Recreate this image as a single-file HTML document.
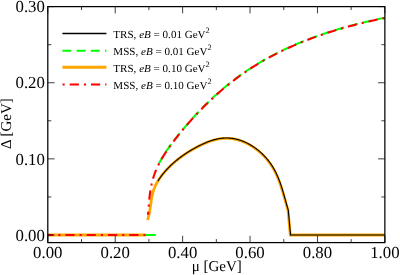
<!DOCTYPE html>
<html><head><meta charset="utf-8"><title>plot</title>
<style>
html,body{margin:0;padding:0;background:#fff;}
svg{display:block;font-family:"Liberation Serif",serif;}
text{text-rendering:geometricPrecision;}
#w{width:400px;height:275px;will-change:transform;overflow:hidden;}
</style></head><body>
<div id="w">
<svg width="400" height="275" viewBox="0 0 400 275">
<rect x="0" y="0" width="400" height="275" fill="#fff"/>
<g fill="none" stroke-linejoin="round" stroke-linecap="butt">
<!-- MSS eB=0.01 green dashed -->
<path d="M47.8,235.0 L140,235.0" stroke="#00ff00" stroke-width="2.0" stroke-dasharray="9.0 5.2"/>
<path d="M145,235.0 L155.8,235.0" stroke="#00ff00" stroke-width="2.0"/>
<path d="M158.79,164.19 L159.23,163.33 L159.73,162.37 L160.25,161.41 L160.77,160.46 L161.30,159.52 L161.85,158.57 L162.40,157.63 L162.96,156.70 L163.53,155.77 L164.11,154.84 L164.69,153.92 L165.29,153.00 L165.89,152.09 L166.49,151.17 L167.11,150.27 L167.73,149.36 L168.36,148.46 L168.99,147.56 L169.63,146.66 L170.28,145.77 L170.93,144.88 L171.59,143.99 L172.25,143.11 L172.91,142.23 L173.58,141.35 L174.25,140.47 L174.93,139.59 L175.61,138.72 L176.29,137.85 L176.97,136.98 L177.66,136.11 L178.35,135.24 L179.04,134.38 L179.74,133.52 L180.44,132.66 L181.14,131.80 L181.84,130.94 L182.55,130.09 L183.26,129.23 L183.97,128.38 L184.69,127.54 L185.40,126.69 L186.12,125.85 L186.85,125.00 L187.57,124.16 L188.30,123.33 L189.03,122.49 L189.76,121.66 L190.50,120.83 L191.24,120.00 L191.98,119.17 L192.72,118.35 L193.47,117.53 L194.22,116.71 L194.97,115.90 L195.73,115.08 L196.48,114.27 L197.24,113.46 L198.00,112.66 L198.77,111.85 L199.54,111.05 L200.31,110.25 L201.08,109.46 L201.86,108.66 L202.63,107.87 L203.42,107.09 L204.20,106.30 L204.98,105.52 L205.77,104.74 L206.57,103.96 L207.36,103.19 L208.16,102.42 L208.95,101.65 L209.76,100.88 L210.56,100.12 L211.37,99.36 L212.18,98.61 L212.99,97.85 L213.80,97.10 L214.62,96.36 L215.44,95.61 L216.26,94.87 L217.09,94.13 L217.92,93.40 L218.75,92.67 L219.58,91.94 L220.42,91.21 L221.25,90.49 L222.10,89.77 L222.94,89.06 L223.78,88.34 L224.63,87.64 L225.48,86.93 L226.34,86.23 L227.19,85.53 L228.05,84.83 L228.91,84.14 L229.78,83.45 L230.64,82.77 L231.51,82.09 L232.38,81.41 L233.26,80.74 L234.13,80.07 L235.01,79.40 L235.89,78.74 L236.78,78.08 L237.67,77.42 L238.55,76.77 L239.45,76.12 L240.34,75.48 L241.24,74.84 L242.14,74.20 L243.04,73.57 L243.94,72.94 L244.85,72.31 L245.76,71.69 L246.67,71.07 L247.59,70.46 L248.50,69.85 L249.42,69.25 L250.34,68.65 L251.27,68.05 L252.20,67.45 L253.12,66.86 L254.06,66.28 L254.99,65.70 L255.93,65.12 L256.86,64.54 L257.81,63.97 L258.75,63.41 L259.69,62.84 L260.64,62.28 L261.59,61.73 L262.54,61.18 L263.50,60.63 L264.45,60.08 L265.41,59.54 L266.37,59.01 L267.34,58.47 L268.30,57.94 L269.27,57.42 L270.24,56.90 L271.21,56.38 L272.18,55.86 L273.16,55.35 L274.13,54.84 L275.11,54.34 L276.09,53.84 L277.08,53.34 L278.06,52.84 L279.05,52.35 L280.03,51.87 L281.02,51.38 L282.02,50.90 L283.01,50.42 L284.01,49.95 L285.00,49.48 L286.00,49.01 L287.00,48.55 L288.01,48.09 L289.01,47.63 L290.02,47.18 L291.02,46.73 L292.03,46.28 L293.04,45.84 L294.06,45.40 L295.07,44.96 L296.08,44.53 L297.10,44.10 L298.12,43.67 L299.14,43.24 L300.16,42.82 L301.18,42.40 L302.21,41.99 L303.23,41.58 L304.26,41.17 L305.29,40.76 L306.32,40.36 L307.35,39.96 L308.38,39.56 L309.42,39.17 L310.45,38.78 L311.49,38.39 L312.52,38.01 L313.56,37.62 L314.60,37.25 L315.64,36.87 L316.69,36.50 L317.73,36.13 L318.77,35.76 L319.82,35.39 L320.87,35.03 L321.91,34.67 L322.96,34.32 L324.01,33.96 L325.06,33.61 L326.11,33.27 L327.17,32.92 L328.22,32.58 L329.27,32.24 L330.33,31.90 L331.39,31.57 L332.44,31.24 L333.50,30.91 L334.56,30.58 L335.62,30.26 L336.68,29.94 L337.74,29.62 L338.80,29.30 L339.87,28.99 L340.93,28.68 L341.99,28.37 L343.06,28.07 L344.12,27.76 L345.19,27.46 L346.26,27.17 L347.32,26.87 L348.39,26.58 L349.46,26.29 L350.53,26.00 L351.60,25.71 L352.67,25.43 L353.74,25.15 L354.81,24.87 L355.88,24.59 L356.95,24.32 L358.02,24.05 L359.10,23.78 L360.17,23.51 L361.24,23.25 L362.31,22.98 L363.39,22.72 L364.46,22.46 L365.54,22.21 L366.61,21.95 L367.69,21.70 L368.76,21.45 L369.84,21.21 L370.91,20.96 L371.99,20.72 L373.06,20.48 L374.14,20.24 L375.21,20.00 L376.29,19.76 L377.36,19.53 L378.44,19.30 L379.52,19.07 L380.59,18.85 L381.67,18.62 L382.74,18.40 L383.82,18.18 L384.89,17.96" stroke="#00ff00" stroke-width="2.0" stroke-dasharray="9.0 5.2" stroke-dashoffset="0" transform="translate(0,-0.25)"/>
<!-- TRS eB=0.10 orange -->
<path d="M47.8,235.0 L146,235.0" stroke="#ffa500" stroke-width="3"/>
<path d="M147.49,219.97 L147.73,219.26 L147.96,218.55 L148.18,217.84 L148.38,217.11 L148.57,216.39 L148.75,215.66 L148.92,214.92 L149.09,214.19 L149.24,213.45 L149.39,212.70 L149.53,211.95 L149.67,211.20 L149.79,210.45 L149.92,209.70 L150.04,208.94 L150.15,208.18 L150.27,207.43 L150.38,206.67 L150.49,205.91 L150.59,205.14 L150.70,204.38 L150.81,203.62 L150.92,202.86 L151.03,202.10 L151.14,201.34 L151.26,200.58 L151.38,199.83 L151.51,199.07 L151.63,198.32 L151.77,197.57 L151.91,196.82 L152.06,196.07 L152.22,195.33 L152.38,194.59 L152.56,193.86 L152.74,193.12 L152.94,192.40 L153.14,191.67 L153.36,190.95 L153.59,190.24 L153.83,189.53 L154.09,188.83 L154.36,188.13 L154.64,187.44 L154.93,186.75 L155.24,186.06 L155.55,185.39 L155.88,184.71 L156.22,184.05 L156.57,183.38 L156.93,182.73 L157.30,182.07 L157.68,181.43 L158.07,180.78 L158.47,180.15 L158.87,179.51 L159.29,178.89 L159.71,178.26 L160.15,177.64 L160.59,177.03 L161.03,176.42 L161.49,175.82 L161.95,175.22 L162.41,174.63 L162.88,174.04 L163.36,173.45 L163.85,172.87 L164.34,172.30 L164.83,171.72 L165.33,171.16 L165.83,170.60 L166.34,170.04 L166.85,169.49 L167.36,168.94 L167.88,168.39 L168.41,167.86 L168.93,167.32 L169.47,166.79 L170.00,166.26 L170.54,165.74 L171.09,165.22 L171.63,164.71 L172.19,164.20 L172.74,163.70 L173.30,163.20 L173.87,162.70 L174.43,162.21 L175.01,161.72 L175.58,161.23 L176.16,160.75 L176.74,160.28 L177.33,159.80 L177.92,159.33 L178.51,158.87 L179.11,158.41 L179.71,157.95 L180.32,157.50 L180.93,157.05 L181.54,156.60 L182.16,156.16 L182.77,155.72 L183.40,155.29 L184.02,154.85 L184.65,154.43 L185.29,154.00 L185.92,153.58 L186.56,153.16 L187.20,152.75 L187.85,152.34 L188.50,151.93 L189.15,151.53 L189.81,151.13 L190.47,150.73 L191.13,150.34 L191.79,149.95 L192.46,149.56 L193.13,149.17 L193.81,148.79 L194.48,148.41 L195.16,148.04 L195.85,147.67 L196.53,147.30 L197.22,146.93 L197.91,146.57 L198.61,146.22 L199.30,145.87 L200.00,145.52 L200.70,145.18 L201.41,144.84 L202.11,144.51 L202.82,144.18 L203.53,143.86 L204.24,143.55 L204.96,143.24 L205.67,142.94 L206.39,142.64 L207.11,142.36 L207.83,142.08 L208.55,141.81 L209.28,141.54 L210.00,141.29 L210.73,141.04 L211.46,140.80 L212.18,140.58 L212.91,140.36 L213.65,140.15 L214.38,139.95 L215.11,139.76 L215.84,139.58 L216.58,139.41 L217.31,139.25 L218.05,139.10 L218.78,138.97 L219.52,138.84 L220.26,138.73 L220.99,138.63 L221.73,138.54 L222.47,138.47 L223.21,138.40 L223.94,138.35 L224.68,138.32 L225.42,138.30 L226.15,138.29 L226.89,138.29 L227.62,138.31 L228.36,138.34 L229.09,138.39 L229.83,138.45 L230.56,138.52 L231.29,138.60 L232.02,138.70 L232.75,138.81 L233.47,138.93 L234.20,139.06 L234.92,139.21 L235.65,139.37 L236.37,139.54 L237.08,139.72 L237.80,139.91 L238.52,140.11 L239.23,140.33 L239.94,140.56 L240.64,140.80 L241.35,141.05 L242.05,141.31 L242.75,141.58 L243.44,141.86 L244.14,142.15 L244.83,142.45 L245.51,142.77 L246.20,143.09 L246.88,143.42 L247.55,143.76 L248.22,144.11 L248.89,144.48 L249.56,144.85 L250.22,145.23 L250.87,145.61 L251.52,146.01 L252.17,146.42 L252.81,146.83 L253.45,147.26 L254.09,147.69 L254.72,148.13 L255.34,148.58 L255.96,149.04 L256.57,149.50 L257.18,149.98 L257.78,150.46 L258.38,150.94 L258.97,151.44 L259.56,151.94 L260.14,152.45 L260.72,152.97 L261.29,153.49 L261.85,154.02 L262.40,154.56 L262.95,155.10 L263.50,155.65 L264.03,156.21 L264.57,156.77 L265.09,157.34 L265.61,157.91 L266.11,158.49 L266.62,159.07 L267.11,159.66 L267.60,160.26 L268.08,160.86 L268.55,161.46 L269.02,162.07 L269.48,162.69 L269.93,163.31 L270.37,163.93 L270.80,164.56 L271.23,165.19 L271.64,165.83 L272.05,166.47 L272.45,167.11 L272.85,167.76 L273.23,168.41 L273.61,169.07 L273.98,169.73 L274.34,170.39 L274.69,171.05 L275.04,171.72 L275.38,172.40 L275.72,173.07 L276.05,173.75 L276.37,174.43 L276.68,175.11 L276.99,175.80 L277.30,176.49 L277.59,177.18 L277.89,177.88 L278.17,178.58 L278.45,179.27 L278.73,179.98 L279.00,180.68 L279.27,181.39 L279.53,182.09 L279.79,182.80 L280.05,183.52 L280.30,184.23 L280.54,184.94 L280.79,185.66 L281.03,186.38 L281.26,187.10 L281.49,187.82 L281.72,188.54 L281.95,189.27 L282.17,189.99 L282.40,190.72 L282.62,191.44 L282.83,192.17 L283.05,192.90 L283.26,193.63 L283.47,194.36 L283.68,195.09 L283.89,195.82 L284.10,196.55 L284.30,197.28 L284.51,198.01 L284.71,198.74 L284.92,199.47 L285.12,200.21 L285.32,200.94 L285.53,201.67 L285.73,202.40 L285.93,203.13 L286.14,203.86 L286.34,204.59 L286.55,205.32 L286.75,206.04 L286.96,206.77 L287.17,207.50 L287.38,208.22 L287.59,208.94 L287.81,209.67 L288.02,210.39 L290.30,235.00 L384.87,235.00" stroke="#ffa500" stroke-width="2.8" stroke-linejoin="miter"/>
<!-- TRS eB=0.01 black -->
<path d="M157.93,181.13 L158.32,180.48 L158.72,179.85 L159.12,179.21 L159.54,178.59 L159.96,177.96 L160.40,177.34 L160.84,176.73 L161.28,176.12 L161.74,175.52 L162.20,174.92 L162.66,174.33 L163.13,173.74 L163.61,173.15 L164.10,172.57 L164.59,172.00 L165.08,171.42 L165.58,170.86 L166.08,170.30 L166.59,169.74 L167.10,169.19 L167.61,168.64 L168.13,168.09 L168.66,167.56 L169.18,167.02 L169.72,166.49 L170.25,165.96 L170.79,165.44 L171.34,164.92 L171.88,164.41 L172.44,163.90 L172.99,163.40 L173.55,162.90 L174.12,162.40 L174.68,161.91 L175.26,161.42 L175.83,160.93 L176.41,160.45 L176.99,159.98 L177.58,159.50 L178.17,159.03 L178.76,158.57 L179.36,158.11 L179.96,157.65 L180.57,157.20 L181.18,156.75 L181.79,156.30 L182.41,155.86 L183.02,155.42 L183.65,154.99 L184.27,154.55 L184.90,154.13 L185.54,153.70 L186.17,153.28 L186.81,152.86 L187.45,152.45 L188.10,152.04 L188.75,151.63 L189.40,151.23 L190.06,150.83 L190.72,150.43 L191.38,150.04 L192.04,149.65 L192.71,149.26 L193.38,148.87 L194.06,148.49 L194.73,148.11 L195.41,147.74 L196.10,147.37 L196.78,147.00 L197.47,146.63 L198.16,146.27 L198.86,145.92 L199.55,145.57 L200.25,145.22 L200.95,144.88 L201.66,144.54 L202.36,144.21 L203.07,143.88 L203.78,143.56 L204.49,143.25 L205.21,142.94 L205.92,142.64 L206.64,142.34 L207.36,142.06 L208.08,141.78 L208.80,141.51 L209.53,141.24 L210.25,140.99 L210.98,140.74 L211.71,140.50 L212.43,140.28 L213.16,140.06 L213.90,139.85 L214.63,139.65 L215.36,139.46 L216.09,139.28 L216.83,139.11 L217.56,138.95 L218.30,138.80 L219.03,138.67 L219.77,138.54 L220.51,138.43 L221.24,138.33 L221.98,138.24 L222.72,138.17 L223.46,138.10 L224.19,138.05 L224.93,138.02 L225.67,138.00 L226.40,137.99 L227.14,137.99 L227.87,138.01 L228.61,138.04 L229.34,138.09 L230.08,138.15 L230.81,138.22 L231.54,138.30 L232.27,138.40 L233.00,138.51 L233.72,138.63 L234.45,138.76 L235.17,138.91 L235.90,139.07 L236.62,139.24 L237.33,139.42 L238.05,139.61 L238.77,139.81 L239.48,140.03 L240.19,140.26 L240.89,140.50 L241.60,140.75 L242.30,141.01 L243.00,141.28 L243.69,141.56 L244.39,141.85 L245.08,142.15 L245.76,142.47 L246.45,142.79 L247.13,143.12 L247.80,143.46 L248.47,143.81 L249.14,144.18 L249.81,144.55 L250.47,144.93 L251.12,145.31 L251.77,145.71 L252.42,146.12 L253.06,146.53 L253.70,146.96 L254.34,147.39 L254.97,147.83 L255.59,148.28 L256.21,148.74 L256.82,149.20 L257.43,149.68 L258.03,150.16 L258.63,150.64 L259.22,151.14 L259.81,151.64 L260.39,152.15 L260.97,152.67 L261.54,153.19 L262.10,153.72 L262.65,154.26 L263.20,154.80 L263.75,155.35 L264.28,155.91 L264.82,156.47 L265.34,157.04 L265.86,157.61 L266.36,158.19 L266.87,158.77 L267.36,159.36 L267.85,159.96 L268.33,160.56 L268.80,161.16 L269.27,161.77 L269.73,162.39 L270.18,163.01 L270.62,163.63 L271.05,164.26 L271.48,164.89 L271.89,165.53 L272.30,166.17 L272.70,166.81 L273.10,167.46 L273.48,168.11 L273.86,168.77 L274.23,169.43 L274.59,170.09 L274.94,170.75 L275.29,171.42 L275.63,172.10 L275.97,172.77 L276.30,173.45 L276.62,174.13 L276.93,174.81 L277.24,175.50 L277.55,176.19 L277.84,176.88 L278.14,177.58 L278.42,178.28 L278.70,178.97 L278.98,179.68 L279.25,180.38 L279.52,181.09 L279.78,181.79 L280.04,182.50 L280.30,183.22 L280.55,183.93 L280.79,184.64 L281.04,185.36 L281.28,186.08 L281.51,186.80 L281.74,187.52 L281.97,188.24 L282.20,188.97 L282.42,189.69 L282.65,190.42 L282.87,191.14 L283.08,191.87 L283.30,192.60 L283.51,193.33 L283.72,194.06 L283.93,194.79 L284.14,195.52 L284.35,196.25 L284.55,196.98 L284.76,197.71 L284.96,198.44 L285.17,199.17 L285.37,199.91 L285.57,200.64 L285.78,201.37 L285.98,202.10 L286.18,202.83 L286.39,203.56 L286.59,204.29 L286.80,205.02 L287.00,205.74 L287.21,206.47 L287.42,207.20 L287.63,207.92 L287.84,208.64 L288.06,209.37 L288.27,210.09 L290.55,234.95 L384.87,234.95" stroke="#000" stroke-width="1.1" stroke-linejoin="miter"/>
<!-- MSS eB=0.10 red dashdot -->
<path d="M47.8,235.0 L146,235.0" stroke="#ff0000" stroke-width="2.1" stroke-dasharray="9.2 5 2.1 5" stroke-dashoffset="3.75"/>
<path d="M148.09,214.78 L148.16,213.66 L148.24,212.55 L148.31,211.43 L148.38,210.31 L148.46,209.18 L148.54,208.06 L148.62,206.94 L148.71,205.82 L148.79,204.69 L148.89,203.57 L148.98,202.45 L149.09,201.33 L149.19,200.21 L149.31,199.09 L149.43,197.97 L149.55,196.85 L149.68,195.74 L149.82,194.63 L149.97,193.52 L150.13,192.41 L150.29,191.31 L150.47,190.21 L150.65,189.11 L150.85,188.02 L151.05,186.93 L151.26,185.84 L151.49,184.76 L151.73,183.68 L151.98,182.61 L152.24,181.55 L152.51,180.49 L152.80,179.43 L153.10,178.38 L153.42,177.34 L153.75,176.30 L154.09,175.27 L154.45,174.24 L154.82,173.22 L155.21,172.21 L155.61,171.20 L156.02,170.20 L156.44,169.20 L156.88,168.21 L157.32,167.22 L157.78,166.24 L158.25,165.27 L158.74,164.30 L159.23,163.33 L159.73,162.37 L160.25,161.41 L160.77,160.46 L161.30,159.52 L161.85,158.57 L162.40,157.63 L162.96,156.70 L163.53,155.77 L164.11,154.84 L164.69,153.92 L165.29,153.00 L165.89,152.09 L166.49,151.17 L167.11,150.27 L167.73,149.36 L168.36,148.46 L168.99,147.56 L169.63,146.66 L170.28,145.77 L170.93,144.88 L171.59,143.99 L172.25,143.11 L172.91,142.23 L173.58,141.35 L174.25,140.47 L174.93,139.59 L175.61,138.72 L176.29,137.85 L176.97,136.98 L177.66,136.11 L178.35,135.24 L179.04,134.38 L179.74,133.52 L180.44,132.66 L181.14,131.80 L181.84,130.94 L182.55,130.09 L183.26,129.23 L183.97,128.38 L184.69,127.54 L185.40,126.69 L186.12,125.85 L186.85,125.00 L187.57,124.16 L188.30,123.33 L189.03,122.49 L189.76,121.66 L190.50,120.83 L191.24,120.00 L191.98,119.17 L192.72,118.35 L193.47,117.53 L194.22,116.71 L194.97,115.90 L195.73,115.08 L196.48,114.27 L197.24,113.46 L198.00,112.66 L198.77,111.85 L199.54,111.05 L200.31,110.25 L201.08,109.46 L201.86,108.66 L202.63,107.87 L203.42,107.09 L204.20,106.30 L204.98,105.52 L205.77,104.74 L206.57,103.96 L207.36,103.19 L208.16,102.42 L208.95,101.65 L209.76,100.88 L210.56,100.12 L211.37,99.36 L212.18,98.61 L212.99,97.85 L213.80,97.10 L214.62,96.36 L215.44,95.61 L216.26,94.87 L217.09,94.13 L217.92,93.40 L218.75,92.67 L219.58,91.94 L220.42,91.21 L221.25,90.49 L222.10,89.77 L222.94,89.06 L223.78,88.34 L224.63,87.64 L225.48,86.93 L226.34,86.23 L227.19,85.53 L228.05,84.83 L228.91,84.14 L229.78,83.45 L230.64,82.77 L231.51,82.09 L232.38,81.41 L233.26,80.74 L234.13,80.07 L235.01,79.40 L235.89,78.74 L236.78,78.08 L237.67,77.42 L238.55,76.77 L239.45,76.12 L240.34,75.48 L241.24,74.84 L242.14,74.20 L243.04,73.57 L243.94,72.94 L244.85,72.31 L245.76,71.69 L246.67,71.07 L247.59,70.46 L248.50,69.85 L249.42,69.25 L250.34,68.65 L251.27,68.05 L252.20,67.45 L253.12,66.86 L254.06,66.28 L254.99,65.70 L255.93,65.12 L256.86,64.54 L257.81,63.97 L258.75,63.41 L259.69,62.84 L260.64,62.28 L261.59,61.73 L262.54,61.18 L263.50,60.63 L264.45,60.08 L265.41,59.54 L266.37,59.01 L267.34,58.47 L268.30,57.94 L269.27,57.42 L270.24,56.90 L271.21,56.38 L272.18,55.86 L273.16,55.35 L274.13,54.84 L275.11,54.34 L276.09,53.84 L277.08,53.34 L278.06,52.84 L279.05,52.35 L280.03,51.87 L281.02,51.38 L282.02,50.90 L283.01,50.42 L284.01,49.95 L285.00,49.48 L286.00,49.01 L287.00,48.55 L288.01,48.09 L289.01,47.63 L290.02,47.18 L291.02,46.73 L292.03,46.28 L293.04,45.84 L294.06,45.40 L295.07,44.96 L296.08,44.53 L297.10,44.10 L298.12,43.67 L299.14,43.24 L300.16,42.82 L301.18,42.40 L302.21,41.99 L303.23,41.58 L304.26,41.17 L305.29,40.76 L306.32,40.36 L307.35,39.96 L308.38,39.56 L309.42,39.17 L310.45,38.78 L311.49,38.39 L312.52,38.01 L313.56,37.62 L314.60,37.25 L315.64,36.87 L316.69,36.50 L317.73,36.13 L318.77,35.76 L319.82,35.39 L320.87,35.03 L321.91,34.67 L322.96,34.32 L324.01,33.96 L325.06,33.61 L326.11,33.27 L327.17,32.92 L328.22,32.58 L329.27,32.24 L330.33,31.90 L331.39,31.57 L332.44,31.24 L333.50,30.91 L334.56,30.58 L335.62,30.26 L336.68,29.94 L337.74,29.62 L338.80,29.30 L339.87,28.99 L340.93,28.68 L341.99,28.37 L343.06,28.07 L344.12,27.76 L345.19,27.46 L346.26,27.17 L347.32,26.87 L348.39,26.58 L349.46,26.29 L350.53,26.00 L351.60,25.71 L352.67,25.43 L353.74,25.15 L354.81,24.87 L355.88,24.59 L356.95,24.32 L358.02,24.05 L359.10,23.78 L360.17,23.51 L361.24,23.25 L362.31,22.98 L363.39,22.72 L364.46,22.46 L365.54,22.21 L366.61,21.95 L367.69,21.70 L368.76,21.45 L369.84,21.21 L370.91,20.96 L371.99,20.72 L373.06,20.48 L374.14,20.24 L375.21,20.00 L376.29,19.76 L377.36,19.53 L378.44,19.30 L379.52,19.07 L380.59,18.85 L381.67,18.62 L382.74,18.40 L383.82,18.18 L384.89,17.96" stroke="#ff0000" stroke-width="2.1" stroke-dasharray="9.2 5 2.1 5" stroke-dashoffset="6"/>
</g>
<g stroke="#000" stroke-width="0.75" fill="none">
<line x1="47.80" y1="242.6" x2="47.80" y2="235.79999999999998"/>
<line x1="47.80" y1="6.61" x2="47.80" y2="13.41"/>
<line x1="81.51" y1="242.6" x2="81.51" y2="239.1"/>
<line x1="81.51" y1="6.61" x2="81.51" y2="10.11"/>
<line x1="115.21" y1="242.6" x2="115.21" y2="235.79999999999998"/>
<line x1="115.21" y1="6.61" x2="115.21" y2="13.41"/>
<line x1="148.92" y1="242.6" x2="148.92" y2="239.1"/>
<line x1="148.92" y1="6.61" x2="148.92" y2="10.11"/>
<line x1="182.63" y1="242.6" x2="182.63" y2="235.79999999999998"/>
<line x1="182.63" y1="6.61" x2="182.63" y2="13.41"/>
<line x1="216.33" y1="242.6" x2="216.33" y2="239.1"/>
<line x1="216.33" y1="6.61" x2="216.33" y2="10.11"/>
<line x1="250.04" y1="242.6" x2="250.04" y2="235.79999999999998"/>
<line x1="250.04" y1="6.61" x2="250.04" y2="13.41"/>
<line x1="283.75" y1="242.6" x2="283.75" y2="239.1"/>
<line x1="283.75" y1="6.61" x2="283.75" y2="10.11"/>
<line x1="317.46" y1="242.6" x2="317.46" y2="235.79999999999998"/>
<line x1="317.46" y1="6.61" x2="317.46" y2="13.41"/>
<line x1="351.16" y1="242.6" x2="351.16" y2="239.1"/>
<line x1="351.16" y1="6.61" x2="351.16" y2="10.11"/>
<line x1="384.87" y1="242.6" x2="384.87" y2="235.79999999999998"/>
<line x1="384.87" y1="6.61" x2="384.87" y2="13.41"/>
<line x1="47.8" y1="235.00" x2="54.599999999999994" y2="235.00"/>
<line x1="47.8" y1="196.94" x2="51.3" y2="196.94"/>
<line x1="384.87" y1="196.94" x2="381.37" y2="196.94"/>
<line x1="47.8" y1="158.87" x2="54.599999999999994" y2="158.87"/>
<line x1="384.87" y1="158.87" x2="378.07" y2="158.87"/>
<line x1="47.8" y1="120.80" x2="51.3" y2="120.80"/>
<line x1="384.87" y1="120.80" x2="381.37" y2="120.80"/>
<line x1="47.8" y1="82.74" x2="54.599999999999994" y2="82.74"/>
<line x1="384.87" y1="82.74" x2="378.07" y2="82.74"/>
<line x1="47.8" y1="44.68" x2="51.3" y2="44.68"/>
<line x1="384.87" y1="44.68" x2="381.37" y2="44.68"/>
<line x1="47.8" y1="6.61" x2="54.599999999999994" y2="6.61"/>
<line x1="384.87" y1="6.61" x2="378.07" y2="6.61"/>
</g>
<rect x="47.8" y="6.61" width="337.07" height="235.99" fill="none" stroke="#000" stroke-width="1.25"/>
<g font-size="16.8" fill="#000">
<text x="47.80" y="257.5" text-anchor="middle">0.00</text>
<text x="115.21" y="257.5" text-anchor="middle">0.20</text>
<text x="182.63" y="257.5" text-anchor="middle">0.40</text>
<text x="250.04" y="257.5" text-anchor="middle">0.60</text>
<text x="317.46" y="257.5" text-anchor="middle">0.80</text>
<text x="384.87" y="257.5" text-anchor="middle">1.00</text>
<text x="44.9" y="240.70" text-anchor="end">0.00</text>
<text x="44.9" y="164.57" text-anchor="end">0.10</text>
<text x="44.9" y="88.44" text-anchor="end">0.20</text>
<text x="44.9" y="12.31" text-anchor="end">0.30</text>
</g>
<text x="216.8" y="270.8" font-size="15" text-anchor="middle" fill="#000">μ [GeV]</text>
<text transform="translate(11.2,123.6) rotate(-90)" font-size="15" text-anchor="middle" fill="#000">Δ [GeV]</text>
<g fill="#000">

<line x1="62.4" y1="33.5" x2="106.4" y2="33.5" stroke="#000" stroke-width="1.3"/>
<line x1="62.4" y1="50.65" x2="106.4" y2="50.65" stroke="#00ff00" stroke-width="2.0" stroke-dasharray="9.0 5.2"/>
<line x1="62.4" y1="67.25" x2="106.4" y2="67.25" stroke="#ffa500" stroke-width="3"/>
<line x1="62.4" y1="84.43" x2="106.4" y2="84.43" stroke="#ff0000" stroke-width="2" stroke-dasharray="9.2 5 2.1 5" stroke-dashoffset="14.0"/>
<text transform="translate(113.3,38.20) scale(1.025,1)" font-size="10.8">TRS, <tspan font-style='italic'>eB</tspan> = 0.01 GeV<tspan font-size="8.2" dy="-5.3">2</tspan></text>
<text transform="translate(113.3,55.25) scale(1.025,1)" font-size="10.8">MSS, <tspan font-style='italic'>eB</tspan> = 0.01 GeV<tspan font-size="8.2" dy="-5.3">2</tspan></text>
<text transform="translate(113.3,72.30) scale(1.025,1)" font-size="10.8">TRS, <tspan font-style='italic'>eB</tspan> = 0.10 GeV<tspan font-size="8.2" dy="-5.3">2</tspan></text>
<text transform="translate(113.3,89.35) scale(1.025,1)" font-size="10.8">MSS, <tspan font-style='italic'>eB</tspan> = 0.10 GeV<tspan font-size="8.2" dy="-5.3">2</tspan></text>

</g>
</svg>
</div>
</body></html>
